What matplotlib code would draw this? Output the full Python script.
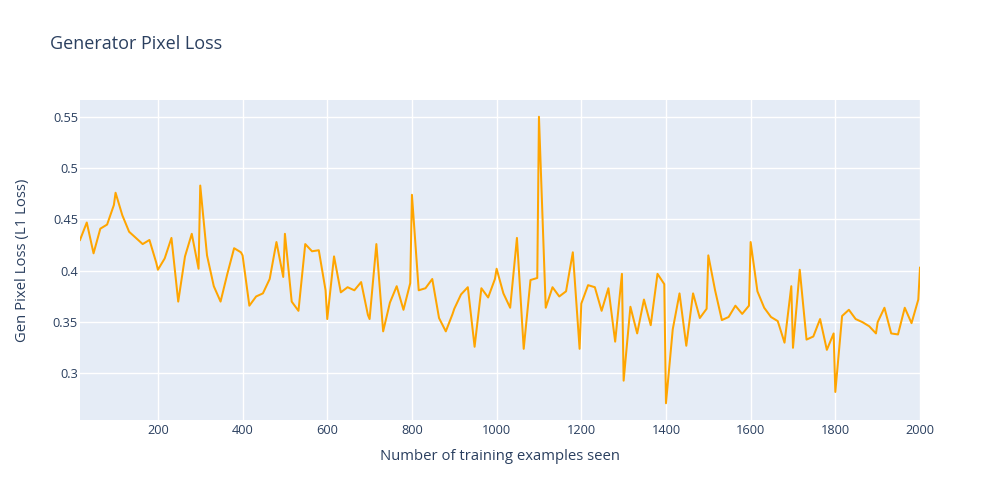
import matplotlib
matplotlib.use("Agg")
import matplotlib.pyplot as plt

# ---------------- Data ---------------- #
# logged every 16 examples, plus the end of each 100-example epoch
examples_seen = [
    16, 32, 48, 64, 80, 96, 100,
    116, 132, 148, 164, 180, 196, 200,
    216, 232, 248, 264, 280, 296, 300,
    316, 332, 348, 364, 380, 396, 400,
    416, 432, 448, 464, 480, 496, 500,
    516, 532, 548, 564, 580, 596, 600,
    616, 632, 648, 664, 680, 696, 700,
    716, 732, 748, 764, 780, 796, 800,
    816, 832, 848, 864, 880, 896, 900,
    916, 932, 948, 964, 980, 996, 1000,
    1016, 1032, 1048, 1064, 1080, 1096, 1100,
    1116, 1132, 1148, 1164, 1180, 1196, 1200,
    1216, 1232, 1248, 1264, 1280, 1296, 1300,
    1316, 1332, 1348, 1364, 1380, 1396, 1400,
    1416, 1432, 1448, 1464, 1480, 1496, 1500,
    1516, 1532, 1548, 1564, 1580, 1596, 1600,
    1616, 1632, 1648, 1664, 1680, 1696, 1700,
    1716, 1732, 1748, 1764, 1780, 1796, 1800,
    1816, 1832, 1848, 1864, 1880, 1896, 1900,
    1916, 1932, 1948, 1964, 1980, 1996, 2000,
]

pixel_loss = [
    0.430, 0.447, 0.417, 0.441, 0.445, 0.464, 0.476,
    0.454, 0.438, 0.432, 0.426, 0.430, 0.408, 0.401,
    0.412, 0.432, 0.370, 0.414, 0.436, 0.402, 0.483,
    0.415, 0.385, 0.370, 0.397, 0.422, 0.418, 0.415,
    0.366, 0.375, 0.378, 0.392, 0.428, 0.394, 0.436,
    0.370, 0.361, 0.426, 0.419, 0.420, 0.381, 0.353,
    0.414, 0.379, 0.384, 0.381, 0.389, 0.357, 0.353,
    0.426, 0.341, 0.369, 0.385, 0.362, 0.388, 0.474,
    0.381, 0.383, 0.392, 0.354, 0.341, 0.358, 0.363,
    0.377, 0.384, 0.326, 0.383, 0.374, 0.392, 0.402,
    0.378, 0.364, 0.432, 0.324, 0.391, 0.393, 0.550,
    0.364, 0.384, 0.375, 0.380, 0.418, 0.324, 0.368,
    0.386, 0.384, 0.361, 0.383, 0.331, 0.397, 0.293,
    0.365, 0.339, 0.372, 0.347, 0.397, 0.387, 0.271,
    0.343, 0.378, 0.327, 0.378, 0.354, 0.363, 0.415,
    0.381, 0.352, 0.355, 0.366, 0.358, 0.366, 0.428,
    0.380, 0.364, 0.355, 0.351, 0.330, 0.385, 0.325,
    0.401, 0.333, 0.336, 0.353, 0.323, 0.339, 0.282,
    0.356, 0.362, 0.353, 0.350, 0.346, 0.339, 0.350,
    0.364, 0.339, 0.338, 0.364, 0.349, 0.372, 0.403,
]

x_ticks = [200, 400, 600, 800, 1000, 1200, 1400, 1600, 1800, 2000]
y_ticks = [0.3, 0.35, 0.4, 0.45, 0.5, 0.55]
y_tick_labels = ["0.3", "0.35", "0.4", "0.45", "0.5", "0.55"]

# ---------------- Style ---------------- #
TEXT = "#2a3f5f"
plt.rcParams["font.family"] = ["Open Sans", "DejaVu Sans"]

fig = plt.figure(figsize=(10, 5), dpi=100)
ax = fig.add_axes([0.08, 0.16, 0.84, 0.64])
ax.set_facecolor("#E5ECF6")
for s in ax.spines.values():
    s.set_visible(False)

ax.plot(examples_seen, pixel_loss, color="#FFA500", linewidth=1.45, zorder=3)

ax.set_xlim(min(examples_seen), max(examples_seen))
pad = 0.0163
ax.set_ylim(min(pixel_loss) - pad, max(pixel_loss) + pad)

ax.set_xticks(x_ticks)
ax.set_yticks(y_ticks)
ax.set_yticklabels(y_tick_labels)
ax.grid(True, color="white", linewidth=1, zorder=1)
ax.set_axisbelow(True)
ax.tick_params(length=0, labelsize=9.2, labelcolor=TEXT)
ax.tick_params(axis="x", pad=3)
ax.tick_params(axis="y", pad=1.5)

ax.set_xlabel("Number of training examples seen", fontsize=10.75, color=TEXT)
ax.xaxis.set_label_coords(0.5, -0.1125)
ax.xaxis.label.set_va("center")
ax.set_ylabel("Gen Pixel Loss (L1 Loss)", fontsize=10.75, color=TEXT)
ax.yaxis.set_label_coords(-0.069, 0.5)
ax.yaxis.label.set_va("center")

fig.text(0.05, 1 - 44 / 500, "Generator Pixel Loss", fontsize=13.0,
         color=TEXT, va="center", ha="left")

fig.savefig("out.png", dpi=100, facecolor="white")
